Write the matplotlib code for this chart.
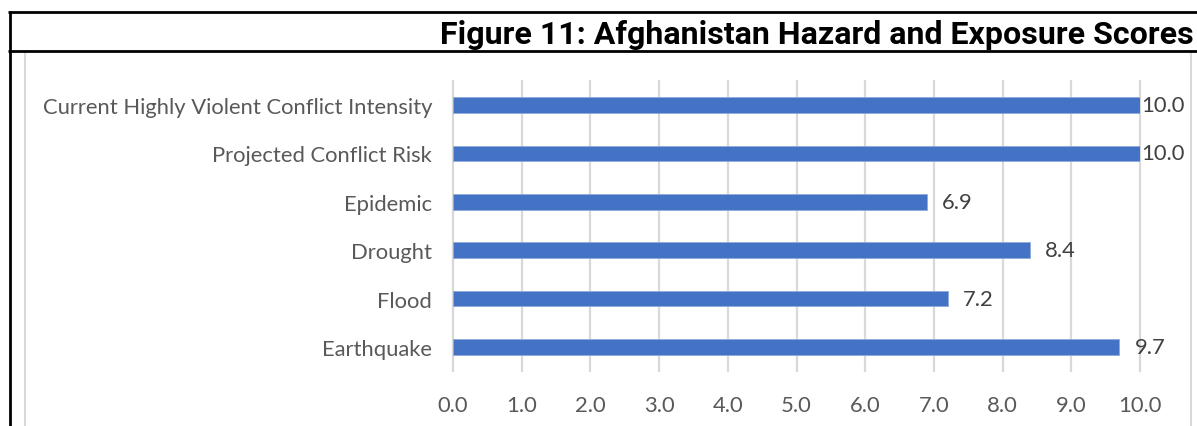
import matplotlib
matplotlib.use("Agg")
import matplotlib.pyplot as plt
from matplotlib.lines import Line2D

categories = ["Current Highly Violent Conflict Intensity", "Projected Conflict Risk",
              "Epidemic", "Drought", "Flood", "Earthquake"]
values = [10.0, 10.0, 6.9, 8.4, 7.2, 9.7]
xticks = [0, 1, 2, 3, 4, 5, 6, 7, 8, 9, 10]
title = "Figure 11: Afghanistan Hazard and Exposure Scores"

W, H = 1197, 427
fig = plt.figure(figsize=(W / 100, H / 100), dpi=100)
fig.patch.set_facecolor("white")

FONT = ["Lato", "DejaVu Sans"]
FS = 15.8
ax = fig.add_axes([453 / W, 55 / H, 687 / W, 290 / H])
ypos = list(range(len(categories)))
ax.barh(ypos, values, height=0.33, color="#4472C4", edgecolor="#8FAADC", linewidth=0.6, zorder=3)
ax.set_ylim(len(categories) - 0.5, -0.5)
ax.set_xlim(0, 10)
ax.set_yticks(ypos)
ax.set_yticklabels(categories, fontsize=FS, color="#595959", family=FONT)
ax.set_xticks(xticks)
ax.set_xticklabels([f"{t:.1f}" for t in xticks], fontsize=FS, color="#595959", family=FONT)
ax.tick_params(axis="both", length=0)
ax.tick_params(axis="y", pad=15)
ax.tick_params(axis="x", pad=17)
for s in ax.spines.values():
    s.set_visible(False)
ax.grid(axis="x", color="#D9D9D9", linewidth=1.6, zorder=0)
ax.grid(axis="y", visible=False)
for gl in ax.get_xgridlines():
    gl.set_clip_on(False)

vmax = max(values)
for y, v in zip(ypos, values):
    off = 1 if v >= vmax else 15
    ax.annotate(f"{v:.1f}", (v, y), xytext=(off * 0.72, 0), textcoords="offset points",
                ha="left", va="center", fontsize=FS, color="#404040", family=FONT,
                annotation_clip=False)

def px_line(x0, y0, x1, y1, color, lw):
    fig.add_artist(Line2D([x0 / W, x1 / W], [1 - y0 / H, 1 - y1 / H], color=color,
                          linewidth=lw, transform=fig.transFigure, solid_capstyle="butt"))

# outer black frame
px_line(8, 12.5, W, 12.5, "black", 2.0)
px_line(9.5, 11.5, 9.5, H, "black", 2.0)
px_line(8, 51.5, W, 51.5, "black", 2.0)
# grey chart frame
px_line(25, 54, 25, H, "#D9D9D9", 1.5)
px_line(1191, 54, 1191, H, "#D9D9D9", 1.5)

fig.text(1194 / W, 1 - 43.5 / H, title, ha="right", va="baseline", fontsize=23.1,
         fontweight="bold", family=["Roboto", "DejaVu Sans"], color="black")

fig.savefig("out.png", dpi=100)
